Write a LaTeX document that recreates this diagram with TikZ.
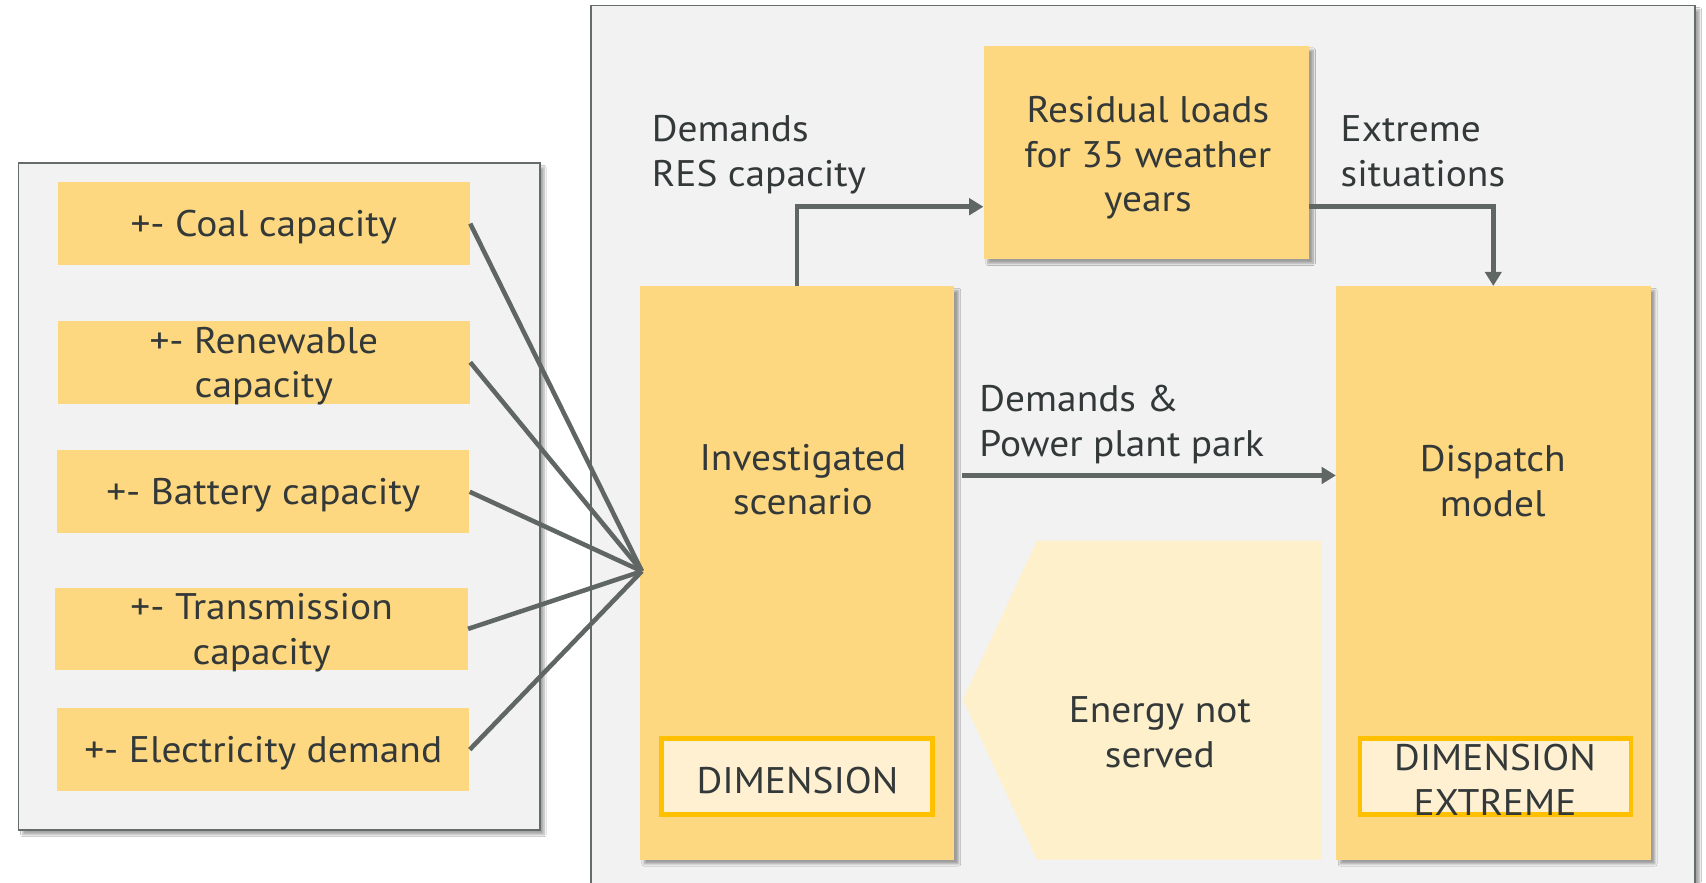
\documentclass[tikz,border=0pt]{standalone}
\usepackage{fontspec}
\setmainfont{PT Sans}[FakeStretch=1.065]
\usetikzlibrary{arrows.meta,shadows.blur}
\definecolor{boxfill}{HTML}{FDD880}
\definecolor{panelfill}{HTML}{F2F2F2}
\definecolor{panelline}{HTML}{666B6B}
\definecolor{wire}{HTML}{5F6664}
\definecolor{ink}{HTML}{333838}
\definecolor{gold}{HTML}{FFC000}
\definecolor{cream}{HTML}{FFF0D2}
\definecolor{pale}{HTML}{FFF0CC}

\begin{document}
\begin{tikzpicture}[x=1pt,y=-1pt,
  every node/.style={text=ink, font=\fontsize{34}{41}\selectfont, inner sep=0pt},
  softshadow/.style={blur shadow={shadow xshift=4pt, shadow yshift=-4pt, shadow blur steps=6, shadow opacity=35}},
  panel/.style={draw=panelline, line width=1.7pt, fill=panelfill, softshadow},
  inbox/.style={fill=boxfill, minimum width=379pt, minimum height=76pt, align=center, text depth=-2pt},
  bigbox/.style={fill=boxfill, softshadow, minimum width=289pt, minimum height=527pt},
  dimbox/.style={draw=gold, line width=4.5pt, fill=cream, minimum width=249pt, minimum height=70pt},
  wire/.style={draw=wire, line width=4.2pt},
  conn/.style={wire, -{Triangle[length=13pt,width=15pt]}},
  lbl/.style={align=left, anchor=west},
  txt/.style={align=center}
]
\useasboundingbox (0,0) rectangle (1568,811);
\clip (0,0) rectangle (1568,811);
\fill[white] (0,0) rectangle (1568,811);

% left panel with the varied parameters
\node[panel, minimum width=479pt, minimum height=613pt] (left) at (256.5,456.5) {};
\node[inbox] (coal)  at (242.5,205.5) {+- Coal capacity};
\node[inbox] (renew) at (242.5,333)   {+- Renewable\\capacity};
\node[inbox] (batt)  at (242,452)     {+- Battery capacity};
\node[inbox] (trans) at (240.5,578)   {+- Transmission\\capacity};
\node[inbox] (elec)  at (242,689)     {+- Electricity demand};

% right panel with the model chain
\path[panel] (543,5) rectangle (1558,840);

\node[bigbox] (inv)  at (732.5,526.5) {};
\node[bigbox] (disp) at (1372.5,526.5) {};
\node[fill=boxfill, softshadow, minimum width=299pt, minimum height=196pt] (res) at (1053.5,140) {};

\node[txt] (invtxt)  at (738,441)  {Investigated\\scenario};
\node[txt] (disptxt) at (1372,442) {Dispatch\\model};
\node[txt] (restxt)  at (1055,145) {Residual loads\\for 35 weather\\years};

\node[dimbox] (dima) at (732.5,714) {};
\node (dimatxt) at (733,717) {DIMENSION};
\node[dimbox] (dimb) at (1374.5,714) {};
\node[txt] (dimbtxt) at (1374,717) {DIMENSION\\EXTREME};

% feedback of unserved energy
\fill[pale] (953,497) -- (1215,497) -- (1215,790) -- (953,790) -- (885,643) -- cycle;
\node[txt] (enstxt) at (1066,673) {Energy not\\served};

% parameter wires into the scenario
\coordinate (hub) at (590,525);
\foreach \n in {coal,renew,batt,trans,elec}
  \draw[wire] (\n.east) -- (hub);

% data flow arrows
\draw[conn] (inv.north) |- ([yshift=-50pt]res.west);
\draw[conn] ([yshift=-50pt]res.east) -| (disp.north);
\draw[conn] ([xshift=7pt,yshift=89.5pt]inv.east) -- ([yshift=89.5pt]disp.west);

\node[lbl] (l1) at (599,142)  {Demands\\RES capacity};
\node[lbl] (l2) at (1232,139) {Extreme\\situations};
\node[lbl] (l3) at (900,390)  {Demands \&\\Power plant park};
\end{tikzpicture}
\end{document}
